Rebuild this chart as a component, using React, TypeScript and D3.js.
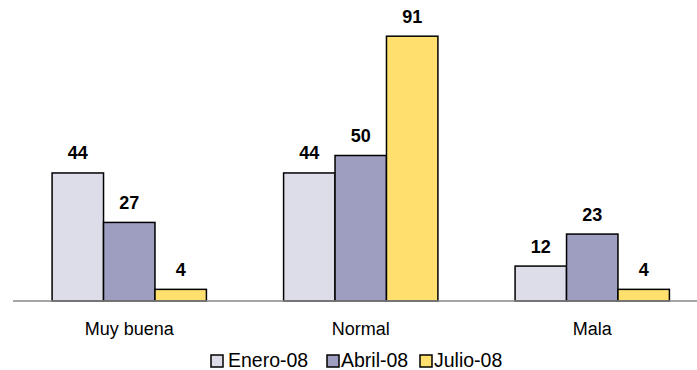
import React from "react";
import * as d3 from "d3";

const categories = ["Muy buena", "Normal", "Mala"];
const seriesNames = ["Enero-08", "Abril-08", "Julio-08"];
const enero = [44, 44, 12];
const abril = [27, 50, 23];
const julio = [4, 91, 4];
const colors = ["#DDDDE9", "#9E9EC0", "#FFE06E"];

const W = 697;
const H = 370;
const FONT = "'Liberation Sans', Arial, sans-serif";

export default function App() {
  const values = [enero, abril, julio];
  const x = d3
    .scaleBand<string>()
    .domain(categories)
    .range([13.5, 708])
    .paddingInner(1 / 3)
    .paddingOuter(1 / 6);
  const xs = d3
    .scaleBand<string>()
    .domain(seriesNames)
    .range([0, x.bandwidth()])
    .padding(0);
  const y = d3.scaleLinear().domain([0, 100]).range([301, 10]);

  const legendItems = [
    { sq: 211, tx: 228 },
    { sq: 327, tx: 341 },
    { sq: 420, tx: 434 },
  ];

  return (
    <svg
      width={W}
      height={H}
      style={{ position: "absolute", left: 0, top: 0, background: "#fff" }}
      fontFamily={FONT}
    >
      {categories.map((c, ci) => (
        <g key={c}>
          {seriesNames.map((s, si) => {
            const v = values[si][ci];
            const bx = (x(c) as number) + (xs(s) as number);
            const bw = xs.bandwidth();
            return (
              <g key={s}>
                <rect
                  x={bx}
                  y={y(v)}
                  width={bw}
                  height={y(0) - y(v)}
                  fill={colors[si]}
                  stroke="#000"
                  strokeWidth={1.5}
                />
                <text
                  x={bx + bw / 2}
                  y={y(v) - 13.5}
                  textAnchor="middle"
                  fontSize={18}
                  fontWeight="bold"
                  fill="#000"
                >
                  {v}
                </text>
              </g>
            );
          })}
          <text
            x={(x(c) as number) + x.bandwidth() / 2}
            y={335}
            textAnchor="middle"
            fontSize={18}
            fill="#000"
          >
            {c}
          </text>
        </g>
      ))}
      <line x1={13} x2={697} y1={y(0)} y2={y(0)} stroke="#888" strokeWidth={1.5} />
      {seriesNames.map((s, i) => (
        <g key={s}>
          <rect
            x={legendItems[i].sq}
            y={355}
            width={12}
            height={12}
            fill={colors[i]}
            stroke="#000"
            strokeWidth={1.5}
          />
          <text x={legendItems[i].tx} y={367} fontSize={19.5} fill="#000">
            {s}
          </text>
        </g>
      ))}
    </svg>
  );
}
